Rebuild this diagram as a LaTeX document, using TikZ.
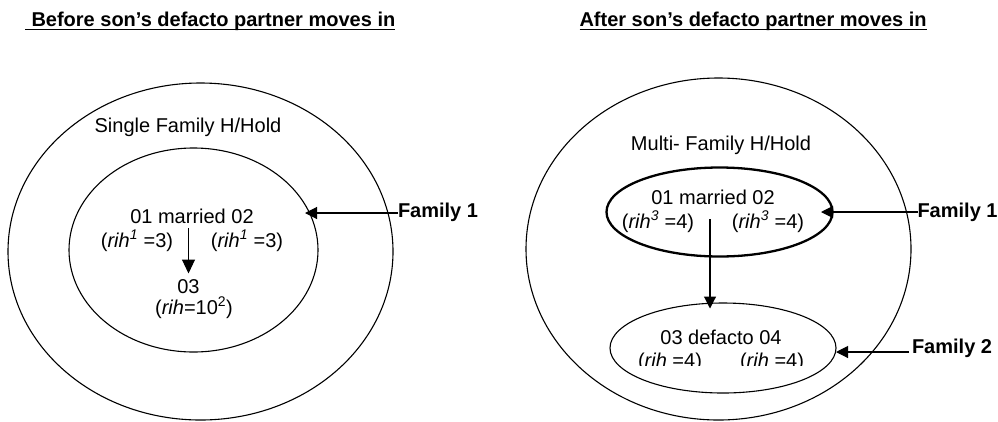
\documentclass[tikz,border=0pt]{standalone}
\usepackage{fontspec}
\setmainfont{Liberation Sans}
\usetikzlibrary{shapes.geometric,arrows.meta}
\newcommand{\rihsup}[1]{\textit{rih}\textsuperscript{\textit{#1}}}
\begin{document}
\begin{tikzpicture}[x=1pt,y=-1pt,
  every node/.style={inner sep=0pt, outer sep=0pt, font=\fontsize{20}{24}\selectfont},
  ring/.style={draw, ellipse, line width=1.1pt},
  thickring/.style={ring, line width=2.3pt},
  lbl/.style={anchor=base},
  fam/.style={anchor=base west, font=\fontsize{20}{24}\selectfont\bfseries},
  ttl/.style={anchor=base west, font=\fontsize{20}{24}\selectfont\bfseries},
  uline/.style={line width=1.8pt},
  arr/.style={line width=1.1pt, -{Triangle[length=12pt,width=12pt]}},
  bigarr/.style={line width=1.1pt, -{Triangle[length=14pt,width=13pt]}}]
\useasboundingbox (0,0) rectangle (998,421);

% titles
\node[ttl] (tL) at (31.5,26.5) {Before son’s defacto partner moves in};
\node[ttl] (tR) at (579.5,26.5) {After son’s defacto partner moves in};
\draw[uline] ([xshift=-6.5pt,yshift=-3pt]tL.base west) -- ([yshift=-3pt]tL.base east);
\draw[uline] ([yshift=-3pt]tR.base west) -- ([yshift=-3pt]tR.base east);

% ---------------- left diagram ----------------
\node[ring, minimum width=385pt, minimum height=337pt] (outL) at (200.5,251.5) {};
\node[ring, minimum width=249pt, minimum height=204pt] (inL) at (193.5,250) {};
\node[lbl] (hhL) at (188,132) {Single Family H/Hold};
\node[lbl] (m1) at (192,223.5) {01 married 02};
\node[lbl] (r1) at (137,247) {(\rihsup{1} =3)};
\node[lbl] (r2) at (247,247) {(\rihsup{1} =3)};
\node[lbl] (c03) at (188.5,293.5) {03};
\node[lbl] (r3) at (194,314) {(\textit{rih}=10\textsuperscript{2})};
\coordinate (a1s) at (188.5,228);
\coordinate (a1e) at (188.5,273.5);
\draw[bigarr] (a1s) -- (a1e);
\node[fam] (f1L) at (398,217.5) {Family 1};
\coordinate (f1Ltip) at (305,213);
\draw[arr] (f1L.west |- f1Ltip) -- (f1Ltip);

% ---------------- right diagram ----------------
\node[ring, minimum width=385pt, minimum height=342pt] (outR) at (718.5,249) {};
\node[thickring, minimum width=226pt, minimum height=89pt] (upR) at (719.5,212) {};
\node[ring, minimum width=226pt, minimum height=90pt] (lowR) at (723,348) {};
\node[lbl] (hhR) at (721,150.5) {Multi- Family H/Hold};
\node[lbl] (m2) at (713,204) {01 married 02};
\node[lbl] (r4) at (658,228) {(\rihsup{3} =4)};
\node[lbl] (r5) at (768,228) {(\rihsup{3} =4)};
\node[lbl] (d03) at (721,344) {03 defacto 04};
\begin{scope}
  \clip (600,340) rectangle (850,365.5);
  \node[lbl] (r6) at (670,367.5) {(\textit{rih} =4)};
  \node[lbl] (r7) at (772,367.5) {(\textit{rih} =4)};
\end{scope}
\coordinate (a2s) at (710,219);
\coordinate (a2e) at (710,308.5);
\draw[arr] (a2s) -- (a2e);
\node[fam] (f1R) at (917.5,217.5) {Family 1};
\coordinate (f1Rtip) at (821,212);
\draw[arr] (f1R.west |- f1Rtip) -- (f1Rtip);
\node[fam] (f2R) at (912,353) {Family 2};
\coordinate (f2Rtip) at (836,352);
\draw[arr] ([xshift=-3pt]f2R.west |- f2Rtip) -- (f2Rtip);
\end{tikzpicture}
\end{document}
